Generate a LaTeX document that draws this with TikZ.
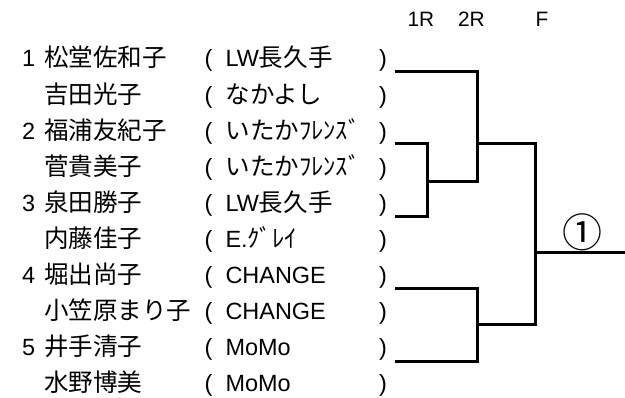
\documentclass[tikz,border=0pt]{standalone}
\usepackage{fontspec}
\newfontfamily\jpfam{Noto Sans CJK JP}
\newfontfamily\latfam{Liberation Sans}
\newcommand{\cjkt}[1]{{\jpfam\fontsize{18.4}{20}\selectfont #1}}
\newcommand{\latt}[1]{{\latfam\fontsize{17.6}{20}\selectfont #1}}
\begin{document}
\begin{tikzpicture}[x=0.75pt,y=-0.75pt,
  txt/.style={inner sep=0pt,outer sep=0pt,anchor=base west},
  hdr/.style={inner sep=0pt,outer sep=0pt,anchor=base west,font=\latfam\fontsize{15.6}{17}\selectfont},
  bline/.style={line width=2.25pt,line cap=rect,line join=miter}]
\useasboundingbox (0,0) rectangle (625,398);
% header
\node[hdr] (h1) at (407.5,26.5) {1R};
\node[hdr] (h2) at (458,26.5) {2R};
\node[hdr] (h3) at (535.5,26.5) {F};
% rows
\foreach \i/\nm/\tm in {
  0/松堂佐和子/{\latt{LW}\cjkt{長久手}},
  1/吉田光子/{\cjkt{なかよし}},
  2/福浦友紀子/{\cjkt{いたかﾌﾚﾝｽﾞ}},
  3/菅貴美子/{\cjkt{いたかﾌﾚﾝｽﾞ}},
  4/泉田勝子/{\latt{LW}\cjkt{長久手}},
  5/内藤佳子/{\latt{E.}\cjkt{ｸﾞﾚｲ}},
  6/堀出尚子/{\latt{CHANGE}},
  7/小笠原まり子/{\latt{CHANGE}},
  8/井手清子/{\latt{MoMo}},
  9/水野博美/{\latt{MoMo}}}{
  \pgfmathsetmacro{\by}{67+36.1*\i}
  \node[txt] (name\i) at (44,\by) {\cjkt{\nm}};
  \node[txt] (lp\i) at (204.5,\by) {\latt{(}};
  \node[txt] (team\i) at (225.5,\by) {\tm};
  \node[txt] (rp\i) at (379,\by) {\latt{)}};
}
\foreach \i/\n in {0/1,2/2,4/3,6/4,8/5}{
  \pgfmathsetmacro{\by}{67+36.1*\i}
  \node[txt] (num\n) at (22,\by) {\latt{\n}};
}
% bracket coordinates
\coordinate (a1) at (396,72);
\coordinate (a2) at (396,144);
\coordinate (a3) at (396,217);
\coordinate (a4) at (396,289);
\coordinate (a5) at (396,362);
\coordinate (r1) at (427,144);
\coordinate (r1b) at (427,217);
\coordinate (r1m) at (427,182);
\coordinate (s1) at (477,72);
\coordinate (s1m) at (477,182);
\coordinate (s1o) at (477,144);
\coordinate (s2) at (477,289);
\coordinate (s2b) at (477,362);
\coordinate (s2o) at (477,325);
\coordinate (f1) at (535,144);
\coordinate (f2) at (535,325);
\coordinate (fm) at (535,253);
\coordinate (fe) at (625,253);
% lines
\draw[bline] (a2) -- (r1) -- (r1b) -- (a3);
\draw[bline] (a1) -- (s1) -- (s1m) -- (r1m);
\draw[bline] (a4) -- (s2) -- (s2b) -- (a5);
\draw[bline] (s1o) -- (f1) -- (f2) -- (s2o);
\draw[bline] (fm) -- (fe);
\node[inner sep=0pt,outer sep=0pt,anchor=base,font=\jpfam\fontsize{30}{31}\selectfont] (win) at (582,248) {①};
\end{tikzpicture}
\end{document}
